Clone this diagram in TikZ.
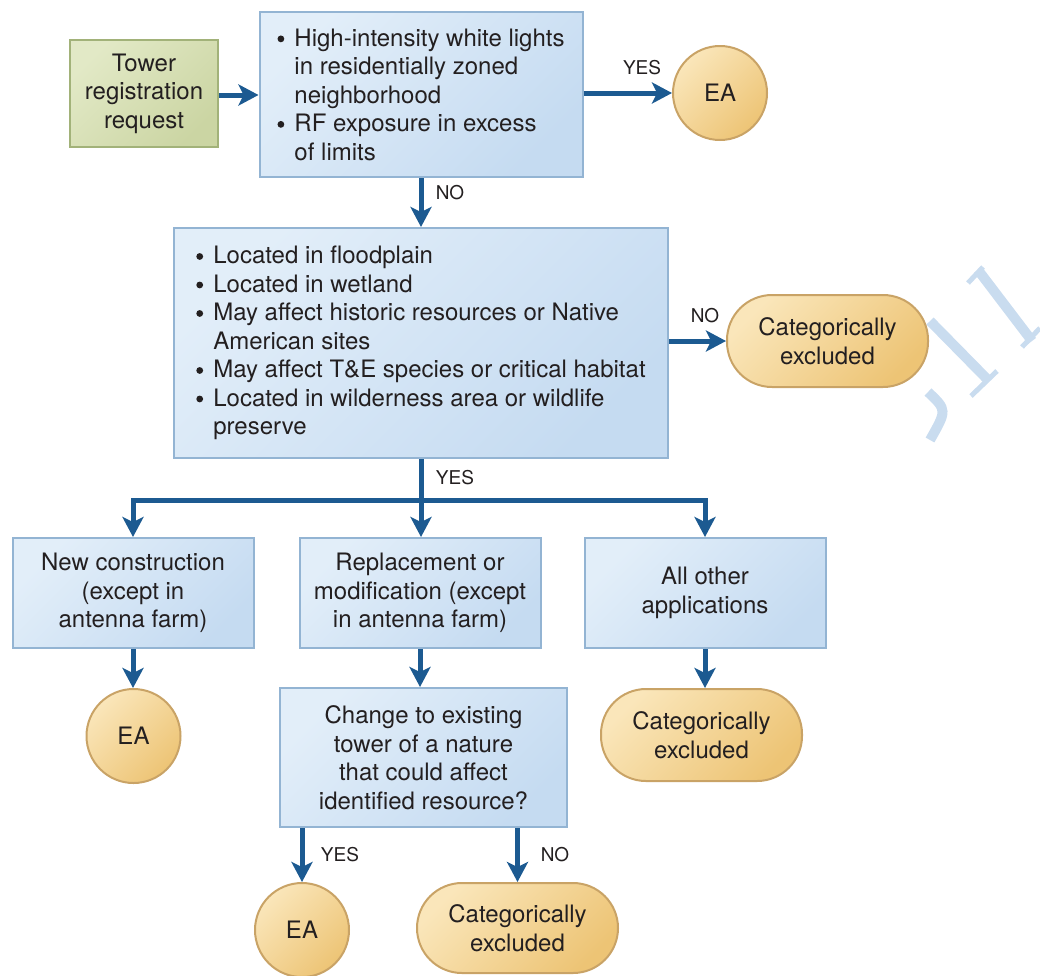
\documentclass[tikz,border=0pt]{standalone}
\usepackage{fontspec}
\setmainfont{TeX Gyre Heros}
\usetikzlibrary{arrows.meta,calc}

\definecolor{ink}{HTML}{231F20}
\definecolor{flowblue}{HTML}{1C5A91}
\definecolor{blueA}{HTML}{E2EEF9}
\definecolor{blueB}{HTML}{C5DBF1}
\definecolor{blueLine}{HTML}{93B4D3}
\definecolor{greenA}{HTML}{E2E9C6}
\definecolor{greenB}{HTML}{CBD5A3}
\definecolor{greenLine}{HTML}{A2B279}
\definecolor{orangeA}{HTML}{FAE6BA}
\definecolor{orangeB}{HTML}{EDC475}
\definecolor{orangeLine}{HTML}{C9A366}
\definecolor{markblue}{HTML}{C9DCEF}

\newcommand\mainsize{\fontsize{24}{28.5}\selectfont}
\newcommand\lblsize{\fontsize{19}{22}\selectfont}
% a round list dot drawn as a small disc, then the item text
\newcommand\itembul{\makebox[17pt][l]{\tikz[baseline=0pt,x=1pt,y=1pt]\fill[ink] (3.6,7.2) circle (3.4);}}
\newcommand\itemcont{\hspace*{17pt}}

\tikzset{
  base/.style={text=ink, inner sep=0pt, font=\mainsize, line width=2pt},
  bluebox/.style={base, rectangle, draw=blueLine, top color=blueA, bottom color=blueB, shading angle=45, align=center},
  greenbox/.style={base, rectangle, draw=greenLine, top color=greenA, bottom color=greenB, shading angle=45, align=center},
  endcircle/.style={base, circle, draw=orangeLine, top color=orangeA, bottom color=orangeB, shading angle=45, minimum size=94pt},
  endpill/.style={base, rectangle, rounded corners=45pt, draw=orangeLine, top color=orangeA, bottom color=orangeB, shading angle=45, minimum width=201pt, minimum height=92pt, align=center},
  flow/.style={draw=flowblue, line width=5pt, -{Stealth[length=20pt,width=21pt,inset=5pt]}},
  bar/.style={draw=flowblue, line width=5pt},
  lbl/.style={text=ink, inner sep=0pt, font=\lblsize}
}

\begin{document}
\begin{tikzpicture}[x=1pt,y=-1pt]
\useasboundingbox (0,0) rectangle (1040,975);

% faint background strokes on the right
\draw[markblue, line width=10pt] (928,392) .. controls (947,410) .. (930,440);
\draw[markblue, line width=10pt] (930,321) -- (988,380);
\draw[markblue, line width=5pt] (971,396) -- (997,371);
\draw[markblue, line width=10pt] (978,270) -- (1032,341);
\draw[markblue, line width=5pt] (968,283) -- (983,267);
\draw[markblue, line width=5pt] (1022,347) -- (1040,328);

% start and first test
\node[greenbox, minimum width=148pt, minimum height=107pt] (tower) at (144,93.5)
  {Tower\\registration\\request};
\node[bluebox, minimum width=323pt, minimum height=165pt, align=left] (box1) at (421,94.5)
  {\itembul High-intensity white lights\\
   \itemcont in residentially zoned\\
   \itemcont neighborhood\\
   \itembul RF exposure in excess\\
   \itemcont of limits};
\node[endcircle] (ea1) at (720,93) {EA};

% second test
\node[bluebox, minimum width=494pt, minimum height=230pt, align=left] (box2) at (421,343)
  {\itembul Located in floodplain\\
   \itembul Located in wetland\\
   \itembul May affect historic resources or Native\\
   \itemcont American sites\\
   \itembul May affect T\&E species or critical habitat\\
   \itembul Located in wilderness area or wildlife\\
   \itemcont preserve};
\node[endpill] (cat1) at (827.5,341) {Categorically\\excluded};

% application types
\node[bluebox, minimum width=241pt, minimum height=110pt] (box3) at (133,593)
  {New construction\\(except in\\antenna farm)};
\node[bluebox, minimum width=241pt, minimum height=110pt] (box4) at (420,593)
  {Replacement or\\modification (except\\in antenna farm)};
\node[bluebox, minimum width=241pt, minimum height=110pt] (box5) at (705,593)
  {All other\\applications};

\node[endcircle] (ea2) at (133.5,736) {EA};
\node[bluebox, minimum width=287pt, minimum height=139pt] (box6) at (423.5,757.5)
  {Change to existing\\tower of a nature\\that could affect\\identified resource?};
\node[endpill] (cat2) at (701.5,735) {Categorically\\excluded};

\node[endcircle] (ea3) at (302,930) {EA};
\node[endpill, minimum height=90pt] (cat3) at (517.5,928) {Categorically\\excluded};

% connectors
\coordinate (split) at (421,500);
\draw[flow] (tower.east |- 0,95) -- (box1.west |- 0,95);
\draw[flow] (box1.east |- ea1.west) -- (ea1.west);
\draw[flow] (box1.south) -- (box2.north);
\draw[flow] (box2.east |- cat1.west) -- (cat1.west);
\draw[bar] (box2.south) -- (split);
\draw[flow] (split) -| (box3.north);
\draw[flow] (split) -| (box5.north);
\draw[flow] (split) -- (split |- box4.north);
\draw[flow] (box3.south) -- (box3.south |- ea2.north);
\draw[flow] (box4.south) -- (box4.south |- box6.north);
\draw[flow] (box5.south) -- (box5.south |- cat2.north);
\draw[flow] (box6.south -| ea3.north) -- (ea3.north);
\draw[flow] (box6.south -| cat3.north) -- (cat3.north);

% branch labels
\node[lbl] (yes1) at (642,68) {YES};
\node[lbl] (no1) at (450,193) {NO};
\node[lbl] (no2) at (705,316) {NO};
\node[lbl] (yes2) at (455,478) {YES};
\node[lbl] (yes3) at (340,855) {YES};
\node[lbl] (no3) at (555,855) {NO};
\end{tikzpicture}
\end{document}
